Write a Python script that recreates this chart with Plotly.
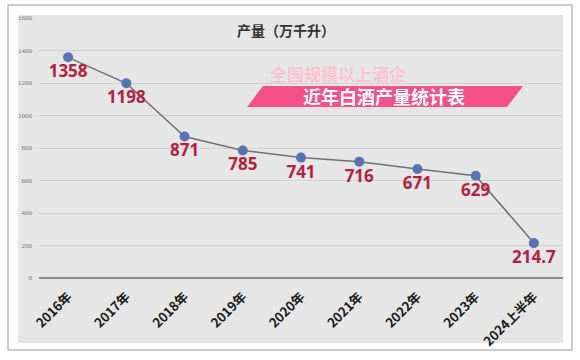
import plotly.graph_objects as go

categories = ["2016年", "2017年", "2018年", "2019年", "2020年", "2021年", "2022年", "2023年", "2024上半年"]
values = [1358, 1198, 871, 785, 741, 716, 671, 629, 214.7]
value_labels = ["1358", "1198", "871", "785", "741", "716", "671", "629", "214.7"]
y_ticks = [0, 200, 400, 600, 800, 1000, 1200, 1400, 1600]

W, H = 580, 360
ML, MR, MT, MB = 39, 17, 18, 82
PW, PH = W - ML - MR, H - MT - MB

def px(x):
    return (x - ML) / PW

def py(y):
    return (H - MB - y) / PH

CJK = "Noto Sans CJK SC"

fig = go.Figure()
fig.add_trace(go.Scatter(
    x=categories, y=values, mode="lines+markers+text",
    line=dict(color="#707070", width=1.5),
    marker=dict(color="#5872b4", size=10),
    text=value_labels, textposition="bottom center",
    textfont=dict(family="Open Sans", size=17, color="#b3213e", weight="bold"),
    cliponaxis=False, showlegend=False,
))

shapes = [
    dict(type="rect", xref="paper", yref="paper", x0=px(8), x1=px(572), y0=py(350), y1=py(5),
         fillcolor="white", line=dict(color="#bdbdbd", width=1.5), layer="below"),
    dict(type="rect", xref="paper", yref="paper", x0=px(18), x1=px(563), y0=py(343), y1=py(15),
         fillcolor="#e6e6e6", line=dict(width=0), layer="below"),
    dict(type="path", xref="paper", yref="paper",
         path=f"M {px(247)} {py(107)} L {px(263)} {py(86)} L {px(523)} {py(86)} L {px(507)} {py(107)} Z",
         fillcolor="#f5508a", line=dict(width=0), layer="above"),
]

def ann(x, y, text, size, color):
    return dict(xref="paper", yref="paper", x=px(x), y=py(y), text=text, showarrow=False,
                xanchor="center", yanchor="middle",
                font=dict(family=CJK, size=size, color=color, weight="bold"))

annotations = [
    ann(286, 30, "产量（万千升）", 14, "#333333"),
    ann(338, 73, "全国规模以上酒企", 17, "#fbc4d4"),
    ann(384, 96, "近年白酒产量统计表", 18, "white"),
]

fig.update_layout(
    width=W, height=H,
    margin=dict(l=ML, r=MR, t=MT, b=MB),
    paper_bgcolor="white", plot_bgcolor="rgba(0,0,0,0)",
    shapes=shapes, annotations=annotations,
    xaxis=dict(type="category", range=[-0.5, len(categories) - 0.5], showgrid=False,
               showline=False, zeroline=False, ticks="outside", ticklen=5,
               tickcolor="rgba(0,0,0,0)", tickangle=-45, automargin=False,
               tickfont=dict(family=CJK, size=13, color="#1a1a1a", weight="bold")),
    yaxis=dict(range=[0, 1600], tickvals=y_ticks, ticktext=[str(v) for v in y_ticks],
               showgrid=True, gridcolor="#d2d2d2", gridwidth=1, automargin=False,
               zeroline=True, zerolinecolor="#8a8a8a", zerolinewidth=1.5,
               tickfont=dict(family="Liberation Serif", size=7, color="#777777"), ticklen=0,
               ticklabelstandoff=6),
)

fig.write_html("out.html")
